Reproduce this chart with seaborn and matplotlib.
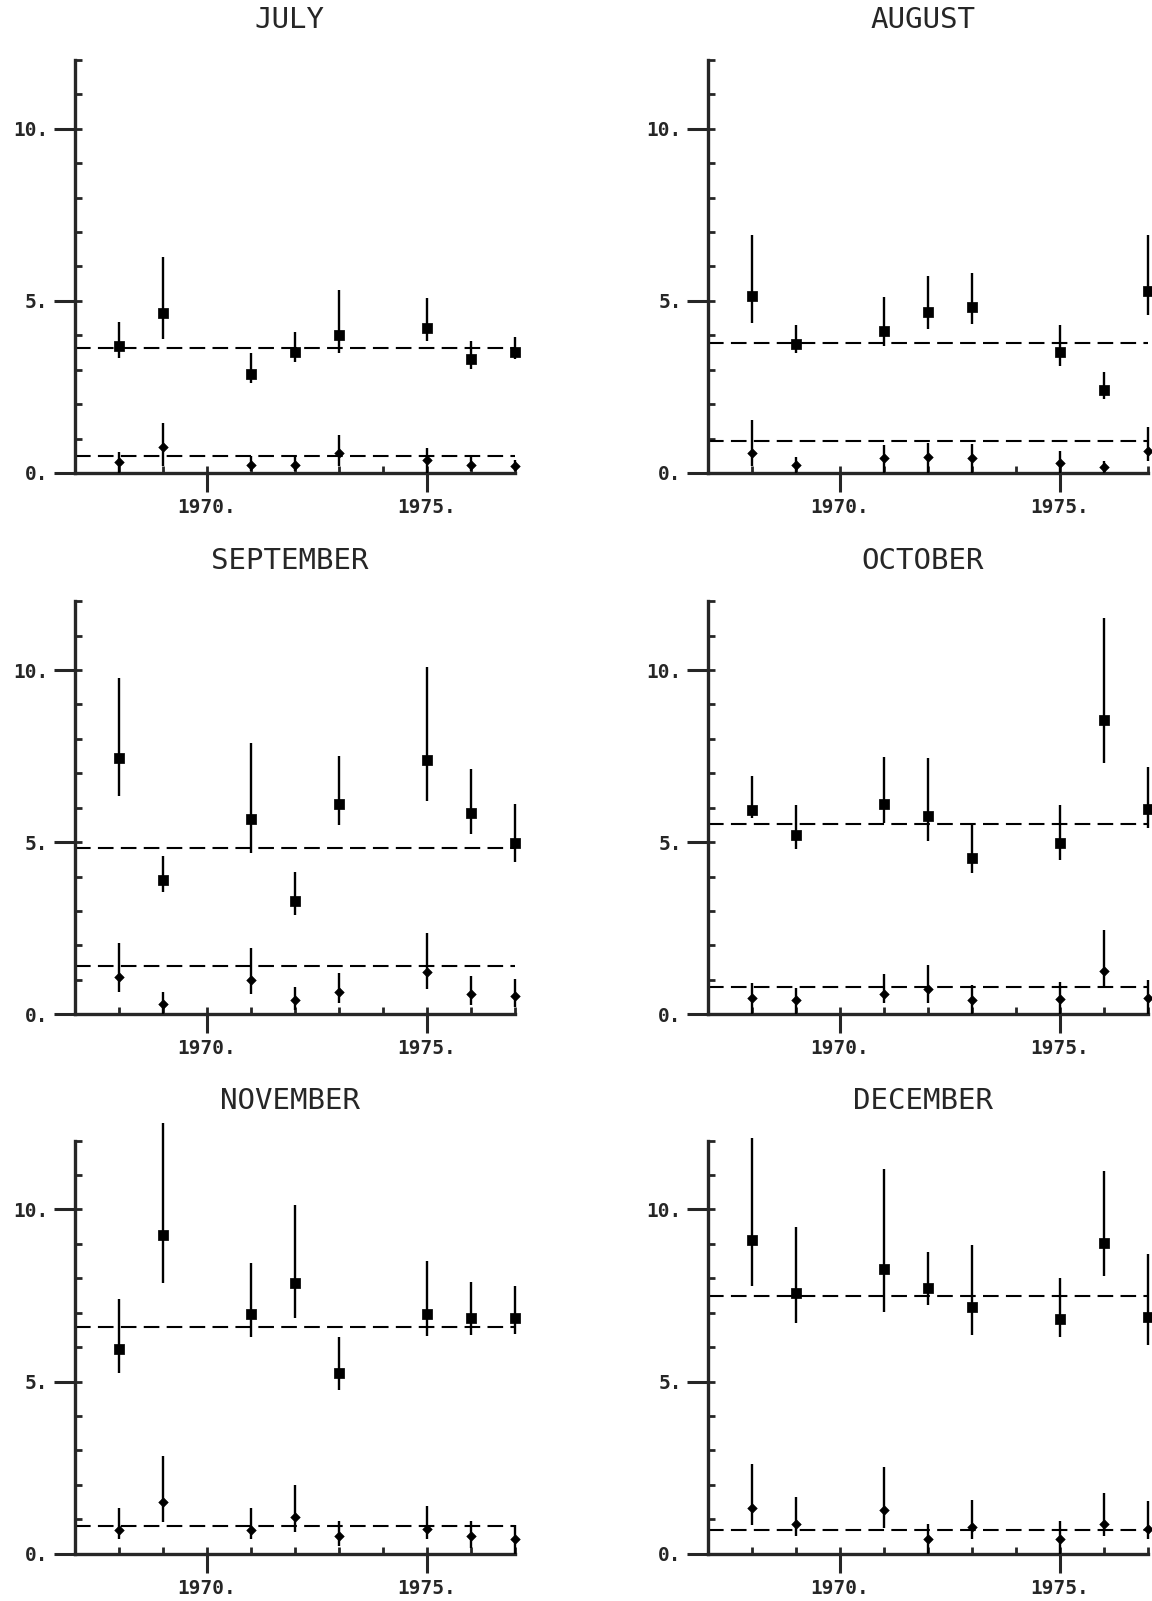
import numpy as np
import pandas as pd
import seaborn as sns
import matplotlib
matplotlib.use("Agg")
import matplotlib.pyplot as plt

# years with observations (1970 and 1974 are missing)
years = [1968, 1969, 1971, 1972, 1973, 1975, 1976, 1977]
months = ["JULY", "AUGUST", "SEPTEMBER", "OCTOBER", "NOVEMBER", "DECEMBER"]

# upper series (squares): value, lower end, upper end of the bar
jul_sq = [3.69, 4.64, 2.86, 3.50, 4.01, 4.22, 3.32, 3.50]
jul_sq_lo = [3.35, 3.90, 2.62, 3.22, 3.47, 3.83, 3.01, 3.30]
jul_sq_hi = [4.39, 6.28, 3.48, 4.08, 5.32, 5.09, 3.83, 3.95]
aug_sq = [5.13, 3.75, 4.13, 4.68, 4.81, 3.50, 2.42, 5.30]
aug_sq_lo = [4.36, 3.48, 3.68, 4.19, 4.34, 3.12, 2.15, 4.58]
aug_sq_hi = [6.90, 4.29, 5.10, 5.71, 5.81, 4.29, 2.92, 6.90]
sep_sq = [7.43, 3.90, 5.66, 3.29, 6.12, 7.38, 5.85, 4.98]
sep_sq_lo = [6.34, 3.56, 4.67, 2.88, 5.51, 6.19, 5.25, 4.43]
sep_sq_hi = [9.76, 4.59, 7.87, 4.14, 7.51, 10.10, 7.11, 6.12]
oct_sq = [5.94, 5.22, 6.12, 5.77, 4.54, 4.98, 8.55, 5.96]
oct_sq_lo = [5.70, 4.80, 5.56, 5.02, 4.09, 4.47, 7.29, 5.41]
oct_sq_hi = [6.93, 6.09, 7.47, 7.44, 5.53, 6.07, 11.50, 7.17]
nov_sq = [5.94, 9.26, 6.95, 7.85, 5.26, 6.95, 6.84, 6.84]
nov_sq_lo = [5.24, 7.85, 6.29, 6.84, 4.76, 6.31, 6.35, 6.38]
nov_sq_hi = [7.39, 12.51, 8.43, 10.13, 6.29, 8.51, 7.90, 7.78]
dec_sq = [9.11, 7.57, 8.28, 7.72, 7.16, 6.82, 9.01, 6.87]
dec_sq_lo = [7.77, 6.71, 7.02, 7.23, 6.34, 6.29, 8.07, 6.06]
dec_sq_hi = [12.07, 9.49, 11.18, 8.75, 8.98, 8.01, 11.12, 8.69]

# lower series (small diamonds)
jul_di = [0.31, 0.76, 0.24, 0.24, 0.58, 0.37, 0.24, 0.19]
jul_di_lo = [0.00, 0.19, 0.05, 0.05, 0.19, 0.00, 0.05, 0.05]
jul_di_hi = [0.60, 1.44, 0.50, 0.49, 1.11, 0.73, 0.47, 0.37]
aug_di = [0.58, 0.22, 0.42, 0.46, 0.42, 0.29, 0.16, 0.65]
aug_di_lo = [0.19, 0.00, 0.00, 0.00, 0.00, 0.00, 0.00, 0.34]
aug_di_hi = [1.55, 0.46, 0.80, 0.87, 0.84, 0.63, 0.36, 1.33]
sep_di = [1.07, 0.31, 0.99, 0.41, 0.65, 1.23, 0.58, 0.52]
sep_di_lo = [0.65, 0.00, 0.58, 0.12, 0.34, 0.73, 0.26, 0.21]
sep_di_hi = [2.07, 0.65, 1.91, 0.78, 1.21, 2.37, 1.10, 1.01]
oct_di = [0.48, 0.42, 0.58, 0.74, 0.42, 0.45, 1.26, 0.48]
oct_di_lo = [0.00, 0.00, 0.34, 0.34, 0.00, 0.00, 0.77, 0.00]
oct_di_hi = [0.90, 0.77, 1.16, 1.42, 0.84, 0.94, 2.46, 1.00]
nov_di = [0.70, 1.49, 0.70, 1.06, 0.50, 0.72, 0.50, 0.43]
nov_di_lo = [0.41, 0.91, 0.43, 0.62, 0.21, 0.41, 0.16, 0.00]
nov_di_hi = [1.32, 2.84, 1.32, 2.00, 0.94, 1.37, 0.94, 0.84]
dec_di = [1.33, 0.86, 1.28, 0.43, 0.78, 0.43, 0.87, 0.72]
dec_di_lo = [0.82, 0.52, 0.75, 0.00, 0.43, 0.00, 0.52, 0.41]
dec_di_hi = [2.61, 1.65, 2.52, 0.86, 1.55, 0.94, 1.77, 1.53]

# dashed mean levels
sq_mean = [3.63, 3.78, 4.82, 5.52, 6.58, 7.49]
di_mean = [0.50, 0.94, 1.41, 0.79, 0.79, 0.68]

y_ticks = [0, 5, 10]
y_ticklabels = ["0.", "5.", "10."]
x_ticks = [1970, 1975]
x_ticklabels = ["1970.", "1975."]

sq_sets = [(jul_sq, jul_sq_lo, jul_sq_hi), (aug_sq, aug_sq_lo, aug_sq_hi),
           (sep_sq, sep_sq_lo, sep_sq_hi), (oct_sq, oct_sq_lo, oct_sq_hi),
           (nov_sq, nov_sq_lo, nov_sq_hi), (dec_sq, dec_sq_lo, dec_sq_hi)]
di_sets = [(jul_di, jul_di_lo, jul_di_hi), (aug_di, aug_di_lo, aug_di_hi),
           (sep_di, sep_di_lo, sep_di_hi), (oct_di, oct_di_lo, oct_di_hi),
           (nov_di, nov_di_lo, nov_di_hi), (dec_di, dec_di_lo, dec_di_hi)]

# long table for seaborn
rows = []
for m, sq, di in zip(months, sq_sets, di_sets):
    for kind, (v, lo, hi) in (("sq", sq), ("di", di)):
        for yr, a, b, c in zip(years, v, lo, hi):
            rows.append(dict(month=m, year=yr, kind=kind, value=a, lo=b, hi=c))
df = pd.DataFrame(rows)

sns.set_style("ticks")
plt.rcParams["font.family"] = ["DejaVu Sans Mono", "DejaVu Sans"]

fig = plt.figure(figsize=(11.52, 16.01), dpi=100)

# axes positions (figure fractions)
lefts = [0.0651, 0.6146]
bottoms = [0.7046, 0.3665, 0.0296]
w, h = 0.382, 0.258

for i, m in enumerate(months):
    ax = fig.add_axes([lefts[i % 2], bottoms[i // 2], w, h])
    d = df[df.month == m]

    # error bars
    ax.vlines(d.year, d.lo, d.hi, color="black", lw=1.7, clip_on=False, zorder=3)

    # markers
    sns.scatterplot(data=d[d.kind == "sq"], x="year", y="value", marker="s",
                    s=44, color="black", edgecolor="black", ax=ax,
                    clip_on=False, zorder=4, legend=False)
    sns.scatterplot(data=d[d.kind == "di"], x="year", y="value", marker="D",
                    s=24, color="black", edgecolor="black", ax=ax,
                    clip_on=False, zorder=4, legend=False)

    # mean levels
    ax.axhline(sq_mean[i], color="black", lw=1.5, ls=(0, (7.5, 3.5)), zorder=2)
    ax.axhline(di_mean[i], color="black", lw=1.5, ls=(0, (7.5, 3.5)), zorder=2)

    ax.set_xlim(1967, 1977)
    ax.set_ylim(0, 12)

    ax.set_xticks(x_ticks)
    ax.set_xticklabels(x_ticklabels)
    ax.set_xticks(range(1968, 1978), minor=True)
    ax.set_yticks(y_ticks)
    ax.set_yticklabels(y_ticklabels)
    ax.set_yticks(range(0, 13), minor=True)
    ax.xaxis.remove_overlapping_locs = False
    ax.yaxis.remove_overlapping_locs = False

    ax.tick_params(axis="both", which="major", direction="out", width=2.2,
                   labelsize=14)
    ax.tick_params(axis="x", which="major", length=14, pad=4)
    ax.tick_params(axis="y", which="major", length=15, pad=4)
    ax.tick_params(axis="both", which="minor", direction="in", length=5,
                   width=2.0)
    for lab in ax.get_xticklabels() + ax.get_yticklabels():
        lab.set_fontweight("bold")

    ax.set_xlabel("")
    ax.set_ylabel("")

    sns.despine(ax=ax)
    for side in ("left", "bottom"):
        ax.spines[side].set_linewidth(2.4)

    ax.text(0.488, 1.0775, m, transform=ax.transAxes, ha="center",
            va="baseline", fontsize=21)

fig.savefig("out.png", dpi=100)
